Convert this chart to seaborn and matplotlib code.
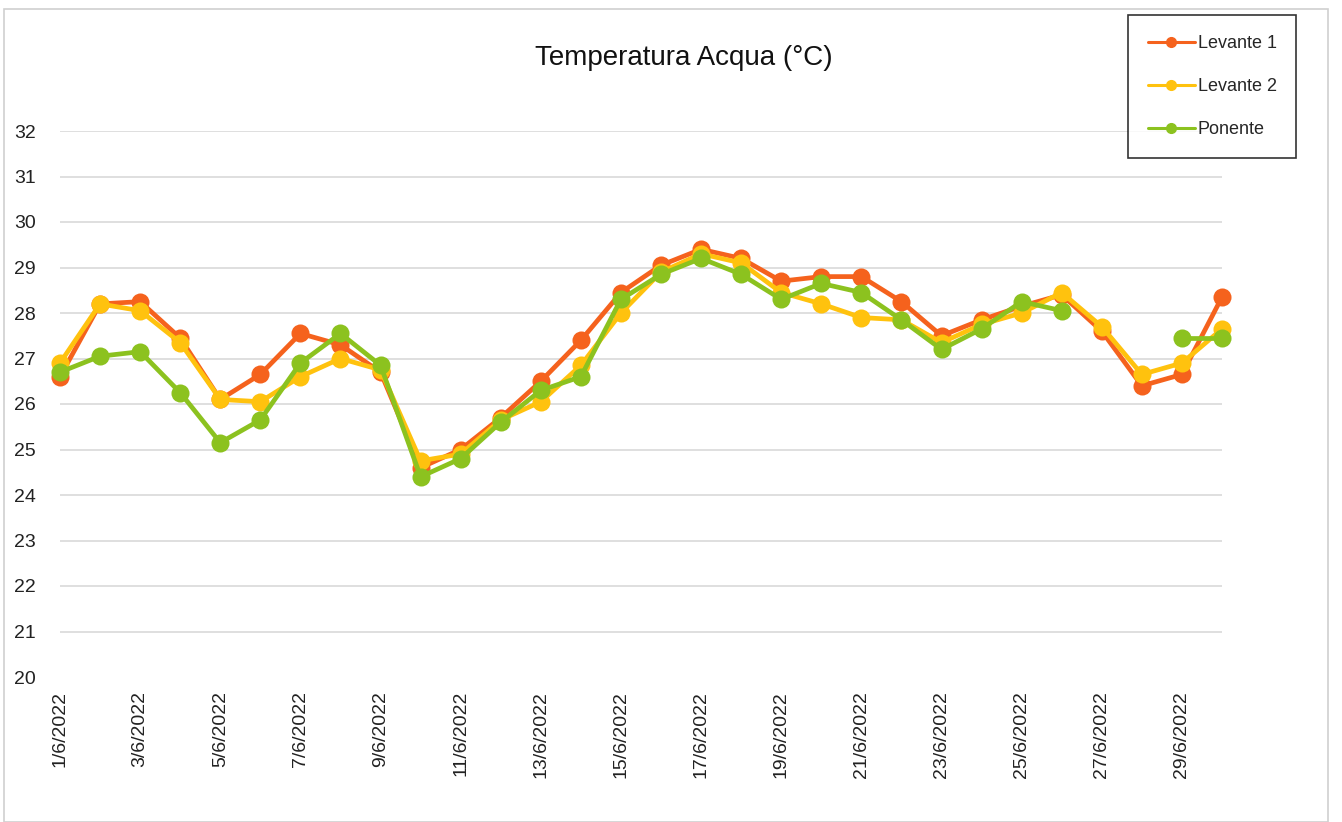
import numpy as np
import pandas as pd
import seaborn as sns
import matplotlib.pyplot as plt
from matplotlib.patches import Rectangle
from matplotlib.lines import Line2D
from matplotlib.transforms import ScaledTranslation

# Dati: temperatura acqua giugno 2022
giorni = list(range(1, 31))
etichette = [f"{d}/6/2022" for d in giorni]

levante_1 = [26.6, 28.2, 28.25, 27.45, 26.1, 26.65, 27.55, 27.3, 26.7, 24.6,
             25.0, 25.7, 26.5, 27.4, 28.45, 29.05, 29.4, 29.2, 28.7, 28.8,
             28.8, 28.25, 27.5, 27.85, 28.15, 28.4, 27.6, 26.4, 26.65, 28.35]
levante_2 = [26.9, 28.2, 28.05, 27.35, 26.1, 26.05, 26.6, 27.0, 26.75, 24.75,
             24.9, 25.65, 26.05, 26.85, 28.0, 28.9, 29.3, 29.1, 28.45, 28.2,
             27.9, 27.85, 27.35, 27.75, 28.0, 28.45, 27.7, 26.65, 26.9, 27.65]
ponente = [26.7, 27.05, 27.15, 26.25, 25.15, 25.65, 26.9, 27.55, 26.85, 24.4,
           24.8, 25.6, 26.3, 26.6, 28.3, 28.85, 29.2, 28.85, 28.3, 28.65,
           28.45, 27.85, 27.2, 27.65, 28.25, 28.05, np.nan, np.nan, 27.45, 27.45]

serie = ["Levante 1", "Levante 2", "Ponente"]
colori = ["#F5621D", "#FFC20E", "#8CC21F"]

righe = []
for nome, valori in zip(serie, [levante_1, levante_2, ponente]):
    seg = 0
    for g, v in zip(giorni, valori):
        if np.isnan(v):
            seg += 1  # spezza la linea sui valori mancanti
            continue
        righe.append({"giorno": g, "temp": v, "serie": nome, "seg": seg})
df = pd.DataFrame(righe)

sns.set_theme(style="white")
plt.rcParams["font.family"] = ["Liberation Sans", "DejaVu Sans"]

fig = plt.figure(figsize=(13.42, 8.22), dpi=100)
ax = fig.add_axes([60 / 1342, 1 - 677 / 822, (1222 - 60) / 1342, (677 - 131) / 822])

sns.lineplot(data=df, x="giorno", y="temp", hue="serie", units="seg", estimator=None,
             hue_order=serie, palette=colori, marker="o", markersize=13,
             markeredgewidth=0, linewidth=3.4, ax=ax, legend=False)
for l in ax.lines:
    l.set_clip_on(False)

ax.set_xlim(1, 30)
ax.set_ylim(20, 32)
ax.set_yticks(range(20, 33))
ax.set_xticks(giorni[::2])
ax.set_xticklabels(etichette[::2], rotation=90)
ax.tick_params(axis="y", length=0, labelsize=14, labelcolor="#222222")
ax.tick_params(axis="x", length=0, pad=10, labelsize=14, labelcolor="#222222")
ax.grid(axis="y", color="#D9D9D9", linewidth=1.2)
ax.get_ygridlines()[0].set_visible(False)
ax.set_xlabel("")
ax.set_ylabel("")
for s in ax.spines.values():
    s.set_visible(False)
ax.set_axisbelow(True)

# etichette y allineate a sinistra
off = ScaledTranslation(-46 / 100, 0, fig.dpi_scale_trans)
for t in ax.get_yticklabels():
    t.set_horizontalalignment("left")
    t.set_transform(ax.get_yaxis_transform() + off)

fig.text(684 / 1342, 1 - 58 / 822, "Temperatura Acqua (°C)", ha="center", va="center",
         fontsize=20, color="#111111")

# legenda
maniglie = [Line2D([0], [0], color=c, lw=2.2, marker="o", markersize=7) for c in colori]
leg = fig.legend(maniglie, serie, loc="upper left",
                 bbox_to_anchor=(1128 / 1342, 1 - 15 / 822), fontsize=13,
                 frameon=True, fancybox=False, edgecolor="black", labelspacing=1.45,
                 handlelength=2.6, handletextpad=0.15, borderpad=1.1, borderaxespad=0)
leg.get_frame().set_linewidth(1.2)

# cornice esterna
fig.patches.append(Rectangle((4 / 1342, 0), 1324 / 1342, 1 - 9 / 822, transform=fig.transFigure,
                             fill=False, edgecolor="#D0D0D0", linewidth=1.2))

fig.savefig("out.png", dpi=100)
